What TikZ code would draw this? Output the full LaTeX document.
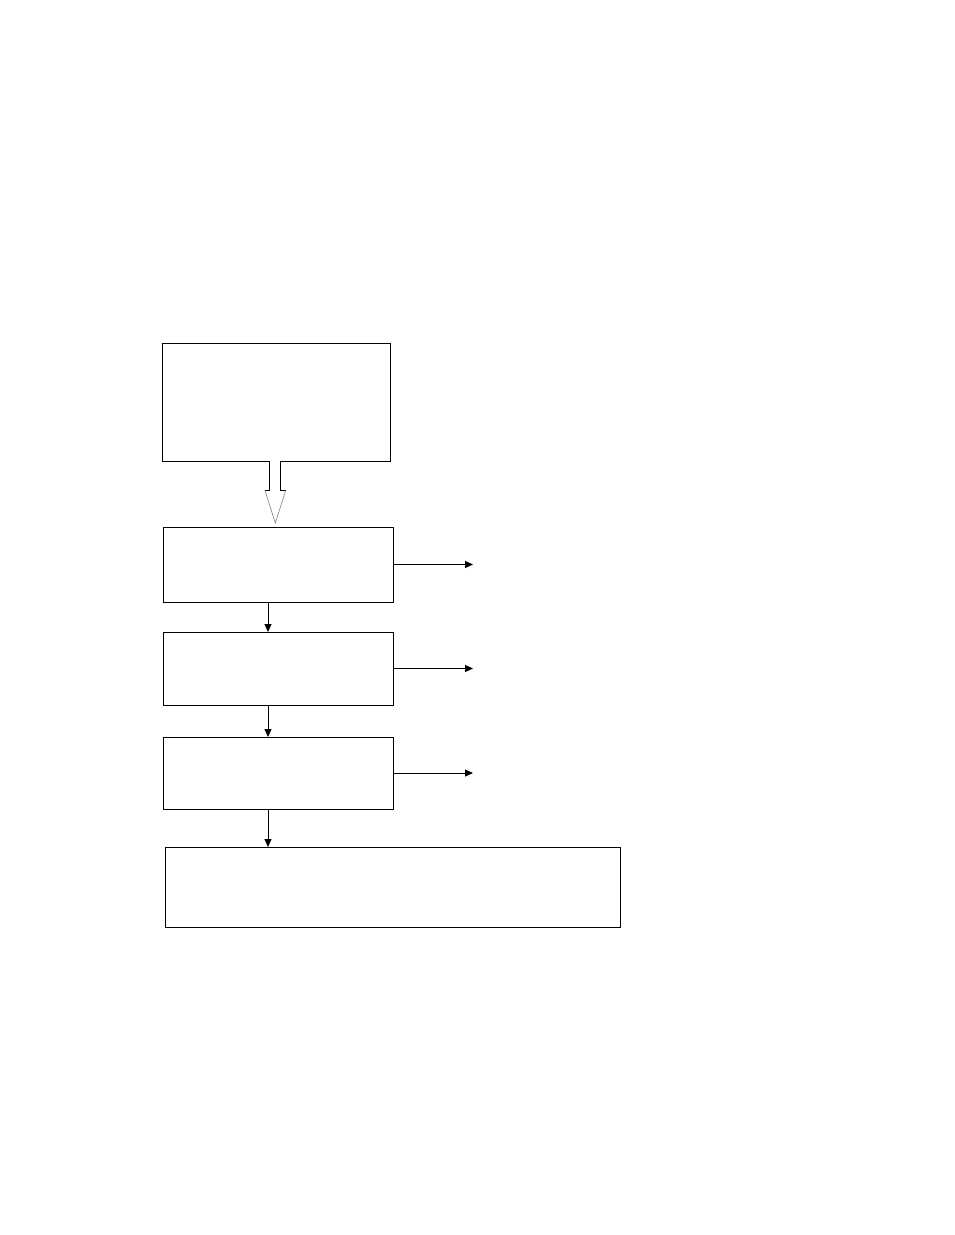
\documentclass[tikz,border=0pt]{standalone}
\usetikzlibrary{arrows.meta}
\begin{document}
\begin{tikzpicture}[x=1pt,y=-1pt,
  blk/.style={draw,line width=1pt,inner sep=0pt,outer sep=0pt,anchor=north west},
  arr/.style={line width=1pt,-{Triangle[length=8pt,width=7pt]}}]
\useasboundingbox[fill=white] (0,0) rectangle (954,1235);
\node[blk,minimum width=228pt,minimum height=118pt] (b1) at (162,343) {};
\node[blk,minimum width=230pt,minimum height=75pt] (b2) at (163,527) {};
\node[blk,minimum width=230pt,minimum height=73pt] (b3) at (163,632) {};
\node[blk,minimum width=230pt,minimum height=72pt] (b4) at (163,737) {};
\node[blk,minimum width=455pt,minimum height=80pt] (b5) at (165,847) {};
% block arrow
\fill[white] (269.5,460) rectangle (280.5,491);
\draw[line width=1pt] (269.5,461) -- (269.5,490.5) -- (265,490.5);
\draw[line width=1pt] (280.5,461) -- (280.5,490.5) -- (285.7,490.5);
\draw[line width=0.6pt,gray] (265,490.5) -- (275.3,523) -- (285.7,490.5);
% vertical arrows
\draw[arr] ([xshift=-10pt]b2.south) -- ([xshift=-10pt]b3.north);
\draw[arr] ([xshift=-10pt]b3.south) -- ([xshift=-10pt]b4.north);
\draw[arr] ([xshift=-10pt]b4.south) -- ([xshift=-10pt]b4.south |- b5.north);
% side arrows
\coordinate (e2) at (473,564.5);
\coordinate (e3) at (473,668.5);
\coordinate (e4) at (473,773);
\draw[arr] (b2.east) -- (e2);
\draw[arr] (b3.east) -- (e3);
\draw[arr] (b4.east) -- (e4);
\end{tikzpicture}
\end{document}
